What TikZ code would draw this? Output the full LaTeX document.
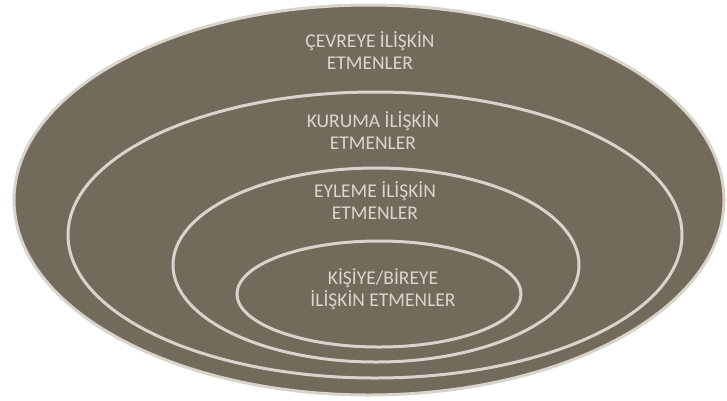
\documentclass[tikz,border=0pt]{standalone}
\usepackage{fontspec}
\setmainfont{Carlito}
\usepackage{xcolor}
\usepackage{tikz}
\tikzset{ring/.style={draw=ringline,line width=3pt},
layer/.style={text=labeltext,align=center,inner sep=0pt,font=\fontsize{19.5}{22}\selectfont}}
\definecolor{earthfill}{HTML}{726A5B}
\definecolor{ringline}{HTML}{D8D4CC}
\definecolor{labeltext}{HTML}{DAD6CE}

\begin{document}
\begin{tikzpicture}[x=1pt,y=-1pt]
\useasboundingbox (0,0) rectangle (727,400);
\draw[ring,fill=earthfill] (369,200) ellipse [x radius=355,y radius=195];
\foreach \cx/\cy/\rx/\ry in {375/235/307/143,376/265/203/97,379/294/142/53} {
\draw[ring] (\cx,\cy) ellipse [x radius=\rx,y radius=\ry];}
\node[layer] (cevre) at (370,51) {ÇEVREYE İLİŞKİN\\ETMENLER};
\node[layer] (kurum) at (373,131) {KURUMA İLİŞKİN\\ETMENLER};
\node[layer] (eylem) at (375,201) {EYLEME İLİŞKİN\\ETMENLER};
\node[layer] (birey) at (383,289) {KİŞİYE/BİREYE\\İLİŞKİN ETMENLER};
\end{tikzpicture}
\end{document}
